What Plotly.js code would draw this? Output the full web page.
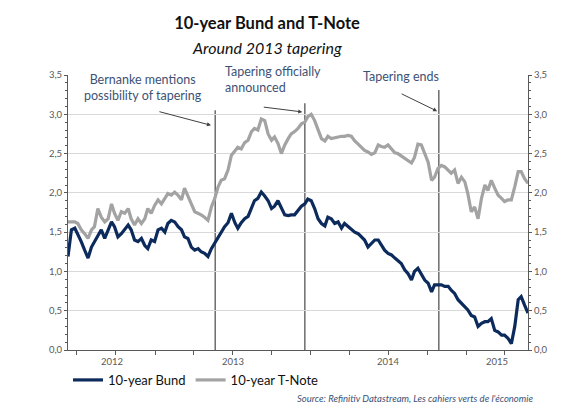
<!DOCTYPE html>
<html><head><meta charset="utf-8">
<script src="https://cdn.plot.ly/plotly-3.0.1.min.js"></script>
<style>html,body{margin:0;padding:0;background:#fff}#chart{width:581px;height:419px}</style>
</head><body><div id="chart"></div>
<script>
const dates = [
'2012-06-11','2012-06-19','2012-06-27','2012-07-04','2012-07-12','2012-07-20','2012-07-28','2012-08-05','2012-08-12','2012-08-20',
'2012-08-28','2012-09-05','2012-09-13','2012-09-21','2012-09-28','2012-10-06','2012-10-14','2012-10-22','2012-10-30','2012-11-06',
'2012-11-14','2012-11-22','2012-11-30','2012-12-08','2012-12-15','2012-12-23','2012-12-31','2013-01-08','2013-01-16','2013-01-24',
'2013-01-31','2013-02-08','2013-02-16','2013-02-24','2013-03-04','2013-03-11','2013-03-19','2013-03-27','2013-04-04','2013-04-12',
'2013-04-19','2013-04-27','2013-05-05','2013-05-13','2013-05-21','2013-05-29','2013-06-05','2013-06-13','2013-06-21','2013-06-29',
'2013-07-07','2013-07-14','2013-07-22','2013-07-30','2013-08-07','2013-08-15','2013-08-22','2013-08-30','2013-09-07','2013-09-15',
'2013-09-23','2013-10-01','2013-10-08','2013-10-16','2013-10-24','2013-11-01','2013-11-09','2013-11-16','2013-11-24','2013-12-02',
'2013-12-10','2013-12-18','2013-12-25','2014-01-02','2014-01-10','2014-01-18','2014-01-26','2014-02-03','2014-02-10','2014-02-18',
'2014-02-26','2014-03-06','2014-03-14','2014-03-21','2014-03-29','2014-04-06','2014-04-14','2014-04-22','2014-04-29','2014-05-07',
'2014-05-15','2014-05-23','2014-05-31','2014-06-08','2014-06-15','2014-06-23','2014-07-01','2014-07-09','2014-07-17','2014-07-24',
'2014-08-01','2014-08-09','2014-08-17','2014-08-25','2014-09-01','2014-09-09','2014-09-17','2014-09-25','2014-10-03','2014-10-11',
'2014-10-18','2014-10-26','2014-11-03','2014-11-11','2014-11-19','2014-11-26','2014-12-04','2014-12-12','2014-12-20','2014-12-28',
'2015-01-04','2015-01-12','2015-01-20','2015-01-28','2015-02-05','2015-02-13','2015-02-20','2015-02-28','2015-03-08','2015-03-16',
'2015-03-24','2015-03-31','2015-04-08','2015-04-16','2015-04-24','2015-05-02','2015-05-09','2015-05-17','2015-05-25'];

const bund = [
1.19,1.53,1.55,1.48,1.38,1.27,1.17,1.31,1.38,1.46,
1.53,1.42,1.53,1.63,1.57,1.44,1.48,1.53,1.59,1.53,
1.40,1.38,1.42,1.33,1.29,1.40,1.38,1.53,1.55,1.50,
1.61,1.65,1.63,1.57,1.53,1.44,1.42,1.31,1.27,1.29,
1.25,1.23,1.19,1.29,1.36,1.42,1.50,1.57,1.62,1.74,
1.62,1.55,1.62,1.67,1.70,1.80,1.90,1.93,2.01,1.96,
1.90,1.80,1.83,1.90,1.82,1.72,1.71,1.72,1.72,1.77,
1.83,1.86,1.92,1.90,1.80,1.67,1.61,1.58,1.69,1.67,
1.61,1.63,1.55,1.61,1.57,1.53,1.50,1.48,1.44,1.40,
1.31,1.36,1.40,1.40,1.33,1.27,1.23,1.21,1.17,1.14,
1.10,1.02,0.97,0.89,1.00,1.04,0.97,0.89,0.85,0.74,
0.83,0.83,0.83,0.81,0.81,0.76,0.72,0.64,0.59,0.55,
0.51,0.44,0.42,0.30,0.34,0.36,0.36,0.40,0.25,0.23,
0.19,0.19,0.15,0.08,0.30,0.64,0.68,0.57,0.47];

const tnote = [
1.63,1.63,1.63,1.61,1.53,1.48,1.42,1.53,1.57,1.80,
1.69,1.63,1.67,1.86,1.74,1.65,1.76,1.74,1.80,1.67,
1.59,1.67,1.61,1.67,1.80,1.74,1.84,1.91,1.86,1.93,
1.99,1.97,2.01,1.97,1.91,2.06,1.97,1.86,1.76,1.74,
1.72,1.69,1.65,1.82,1.93,2.08,2.16,2.18,2.29,2.48,
2.54,2.58,2.56,2.64,2.67,2.78,2.82,2.80,2.94,2.92,
2.75,2.67,2.71,2.63,2.50,2.61,2.69,2.75,2.78,2.82,
2.88,2.90,2.97,3.00,2.92,2.80,2.69,2.66,2.72,2.69,
2.70,2.72,2.72,2.72,2.73,2.72,2.66,2.62,2.58,2.54,
2.52,2.49,2.51,2.61,2.59,2.58,2.61,2.56,2.51,2.50,
2.47,2.43,2.40,2.38,2.45,2.62,2.61,2.50,2.39,2.16,
2.20,2.31,2.35,2.33,2.29,2.25,2.29,2.12,2.20,2.14,
1.99,1.76,1.82,1.67,1.93,2.10,2.03,2.16,2.06,1.97,
1.93,1.89,1.91,1.91,2.08,2.27,2.27,2.18,2.12];

const seriesNames = ['10-year Bund','10-year T-Note'];
const eventDates = ['2013-05-22','2013-12-18','2014-10-28'];
const eventLabels = ['Bernanke mentions<br>possibility of tapering','Tapering officially<br>announced','Tapering ends'];
const yearTickDates = ['2012-09-23','2013-07-02','2014-07-02','2015-03-13'];
const yearLabels = ['2012','2013','2014','2015'];

const FONT = "Lato, 'Open Sans', sans-serif";
const NAVY = '#0c2b5c', GREY = '#a3a3a3', AXC = '#595959', TXT = '#3d5275';
const XRANGE = ['2012-06-11', '2015-05-25'];

const traces = [
  {x: dates, y: bund, name: seriesNames[0], type: 'scatter', mode: 'lines',
   line: {color: NAVY, width: 3.2}},
  {x: dates, y: tnote, name: seriesNames[1], type: 'scatter', mode: 'lines',
   line: {color: GREY, width: 3.2}},
  // empty trace so that the mirrored right-hand axis is drawn
  {x: [], y: [], xaxis: 'x', yaxis: 'y2', type: 'scatter', mode: 'lines', showlegend: false, hoverinfo: 'skip'}
];

const yax = {range: [0, 3.5], tickmode: 'linear', tick0: 0, dtick: 0.5, tickformat: '.1f',
  ticks: 'outside', ticklen: 3, tickcolor: AXC, showline: true, linecolor: AXC, linewidth: 1,
  zeroline: false, fixedrange: true, tickfont: {size: 9.5, color: AXC, family: FONT},
  minor: {tickmode: 'linear', dtick: 0.1, ticks: 'outside', ticklen: 2, tickcolor: AXC, showgrid: false}};

const evShapes = eventDates.map((d, i) => ({type: 'line', xref: 'x', yref: 'y', x0: d, x1: d, y0: 0,
  y1: [3.05, 3.14, 3.31][i], layer: 'below', line: {color: '#6c6c6c', width: 1.5}}));

const yearAnn = yearTickDates.map((d, i) => ({text: yearLabels[i], xref: 'x', yref: 'paper', x: d, y: -0.04,
  xanchor: 'center', yanchor: 'middle', showarrow: false, font: {size: 9.5, color: AXC, family: FONT}}));

const layout = {
  width: 581, height: 419,
  margin: {l: 68, r: 53, t: 75, b: 69},
  paper_bgcolor: '#fff', plot_bgcolor: '#fff',
  separators: ', ',
  font: {family: FONT, color: '#333'},
  title: {text: '10-year Bund and T-Note', font: {size: 16.5, color: '#111', weight: 700, family: FONT},
    x: 267/581, xanchor: 'center', xref: 'container', y: 1 - 23/419, yanchor: 'middle', yref: 'container'},
  showlegend: true,
  legend: {orientation: 'h', x: 0, xanchor: 'left', y: -0.109, yanchor: 'middle',
    font: {size: 13, color: '#111', family: FONT}, bgcolor: 'rgba(0,0,0,0)', traceorder: 'normal'},
  xaxis: {type: 'date', range: XRANGE, tickmode: 'linear', tick0: '2012-01-01', dtick: 'M3',
    ticks: 'outside', ticklen: 4, tickcolor: AXC, showticklabels: false, showgrid: false,
    showline: true, linecolor: AXC, linewidth: 1, zeroline: false, fixedrange: true},
  yaxis: Object.assign({}, yax, {side: 'left', showgrid: true, gridcolor: '#d9d9d9', gridwidth: 1}),
  yaxis2: Object.assign({}, yax, {side: 'right', overlaying: 'y', anchor: 'x', showgrid: false}),
  shapes: evShapes,
  annotations: [
    {text: 'Around 2013 tapering', xref: 'paper', yref: 'paper', x: (267-68)/460, y: (350-47)/275,
     xanchor: 'center', yanchor: 'middle', showarrow: false, font: {size: 16, style: 'italic', color: '#111', family: FONT}},
    {text: eventLabels[0], xref: 'paper', yref: 'paper', x: 0.163, y: 0.953, xanchor: 'center', yanchor: 'middle',
     align: 'center', showarrow: false, bgcolor: '#fff', font: {size: 12.5, color: TXT, family: FONT}},
    {text: eventLabels[1], xref: 'paper', yref: 'paper', x: 0.337, y: 0.982, xanchor: 'left', yanchor: 'middle',
     align: 'left', showarrow: false, bgcolor: '#fff', font: {size: 12.5, color: TXT, family: FONT}},
    {text: eventLabels[2], xref: 'paper', yref: 'paper', x: 0.724, y: 0.996, xanchor: 'center', yanchor: 'middle',
     align: 'center', showarrow: false, bgcolor: '#fff', font: {size: 12.5, color: TXT, family: FONT}},
    {text: '', xref: 'x', yref: 'y', x: '2013-05-12', y: 2.86, ax: -53, ay: -14, showarrow: true,
     arrowhead: 2, arrowsize: 0.8, arrowwidth: 1, arrowcolor: '#404040'},
    {text: '', xref: 'x', yref: 'y', x: '2013-12-12', y: 3.03, ax: -40, ay: -5, showarrow: true,
     arrowhead: 2, arrowsize: 0.8, arrowwidth: 1, arrowcolor: '#404040'},
    {text: '', xref: 'x', yref: 'y', x: '2014-10-24', y: 3.04, ax: -37, ay: -18, showarrow: true,
     arrowhead: 2, arrowsize: 0.8, arrowwidth: 1, arrowcolor: '#404040'},
    {text: "Source: Refinitiv Datastream, Les cahiers verts de l'économie", xref: 'paper', yref: 'paper',
     x: 1.015, y: -0.175, xanchor: 'right', yanchor: 'middle', showarrow: false,
     font: {size: 9.5, style: 'italic', color: TXT, family: FONT}}
  ].concat(yearAnn)
};

Plotly.newPlot('chart', traces, layout, {displayModeBar: false, staticPlot: true});
</script></body></html>
